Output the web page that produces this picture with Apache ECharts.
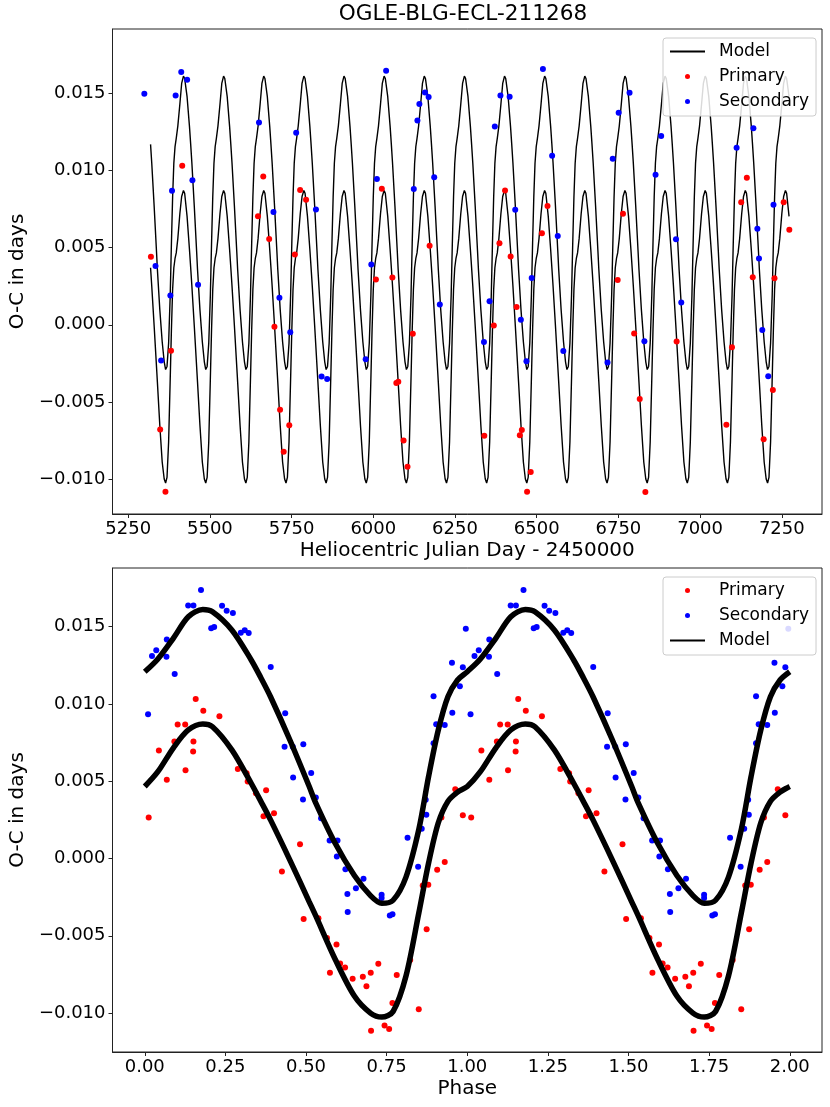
<!DOCTYPE html>
<html lang="en">
<head>
<meta charset="UTF-8" />
<title>OGLE-BLG-ECL-211268</title>
<script src="https://cdn.jsdelivr.net/npm/echarts@6/dist/echarts.min.js"></script>
<style>
  html, body { margin: 0; padding: 0; background: #fff; }
  #chart { width: 830px; height: 1107px; }
</style>
</head>
<body>
<div id="chart"></div>
<script>
// tick labels
const jdTicks = [5250, 5500, 5750, 6000, 6250, 6500, 6750, 7000, 7250];
const ocTicks = [-0.010, -0.005, 0, 0.005, 0.010, 0.015];
const phaseTicks = [0, 0.25, 0.5, 0.75, 1, 1.25, 1.5, 1.75, 2];

// top panel: minima timings [HJD - 2450000, O-C]
const primaryJD = [
  [5319.5, 0.00441], [5347.8, -0.00679], [5364.0, -0.01083], [5381.0, -0.00168],
  [5415.3, 0.01031], [5647.1, 0.00703], [5663.3, 0.00962], [5681.4, 0.00556],
  [5697.5, -0.00013], [5714.7, -0.00551], [5725.8, -0.00823], [5742.9, -0.00652],
  [5760.0, 0.00456], [5776.1, 0.00874], [5794.3, 0.00811], [6008.0, 0.00294],
  [6026.1, 0.00882], [6058.4, 0.00307], [6070.5, -0.00378], [6076.5, -0.00369],
  [6092.6, -0.00750], [6104.7, -0.00921], [6120.9, -0.00058], [6172.3, 0.00513],
  [6339.6, -0.00720], [6368.8, -0.00004], [6386.0, 0.00528], [6403.1, 0.00871],
  [6420.2, 0.00443], [6438.4, 0.00115], [6448.4, -0.00717], [6454.5, -0.00683],
  [6470.6, -0.01083], [6481.7, -0.00955], [6516.0, 0.00593], [6533.1, 0.00770],
  [6747.8, 0.00290], [6764.0, 0.00720], [6798.2, -0.00056], [6815.3, -0.00482],
  [6832.5, -0.01085], [6928.2, -0.00108], [7080.4, -0.00648], [7097.6, -0.00145],
  [7125.8, 0.00794], [7143.0, 0.00954], [7161.1, 0.00309], [7194.4, -0.00743],
  [7222.6, -0.00423], [7227.6, 0.00301], [7255.8, 0.00794], [7273.0, 0.00616]
];
const secondaryJD = [
  [5299.4, 0.01498], [5333.6, 0.00381], [5350.8, -0.00231], [5379.0, 0.00190],
  [5384.1, 0.00869], [5395.1, 0.01487], [5412.3, 0.01639], [5430.4, 0.01589],
  [5446.5, 0.00938], [5463.7, 0.00260], [5650.2, 0.01312], [5694.5, 0.00731],
  [5712.7, 0.00175], [5745.9, -0.00049], [5764.0, 0.01245], [5824.5, 0.00748],
  [5841.7, -0.00336], [5858.8, -0.00352], [5976.7, -0.00224], [5993.9, 0.00391],
  [6011.0, 0.00945], [6039.2, 0.01647], [6123.9, 0.00880], [6135.0, 0.01325],
  [6141.0, 0.01431], [6158.2, 0.01507], [6169.3, 0.01477], [6186.4, 0.00956],
  [6203.5, 0.00132], [6338.6, -0.00112], [6355.7, 0.00152], [6371.8, 0.01286],
  [6389.0, 0.01487], [6417.2, 0.01479], [6434.3, 0.00746], [6451.5, 0.00033],
  [6468.6, -0.00237], [6484.7, 0.00303], [6519.0, 0.01658], [6547.2, 0.01096],
  [6564.4, 0.00575], [6581.5, -0.00170], [6716.6, -0.00244], [6732.7, 0.01077],
  [6750.8, 0.01375], [6784.1, 0.01505], [6829.5, -0.00106], [6863.7, 0.00973],
  [6880.9, 0.01224], [6926.2, 0.00554], [6942.4, 0.00145], [7111.7, 0.01148],
  [7163.1, 0.01274], [7175.2, 0.00623], [7180.2, 0.00430], [7190.3, -0.00034],
  [7208.5, -0.00333], [7224.6, 0.00778]
];

// model over one cycle: [phase, secondary, primary]
const modelCycle = [
  [0.000, 0.01209, 0.00466], [0.040, 0.01290, 0.00560], [0.090, 0.01430, 0.00720],
  [0.135, 0.01565, 0.00832], [0.180, 0.01612, 0.00871], [0.210, 0.01597, 0.00853],
  [0.270, 0.01479, 0.00703], [0.330, 0.01285, 0.00487], [0.360, 0.01170, 0.00370],
  [0.390, 0.01047, 0.00250], [0.450, 0.00767, -0.00010], [0.510, 0.00466, -0.00280],
  [0.530, 0.00360, -0.00370], [0.590, 0.00100, -0.00650], [0.650, -0.00110, -0.00890],
  [0.700, -0.00240, -0.01000], [0.735, -0.00290, -0.01026], [0.770, -0.00270, -0.00990],
  [0.810, -0.00120, -0.00760], [0.850, 0.00190, -0.00350], [0.880, 0.00530, -0.00030],
  [0.910, 0.00830, 0.00230], [0.940, 0.01047, 0.00370], [0.970, 0.01155, 0.00430]
];
const modelPeriod = 122.8;   // days
const modelEpoch = 5397.0;   // phase zero
const modelStart = 5318;
const modelEnd = 7273;

// bottom panel: same minima folded on phase 0..1
const primaryPhase = [
  [0.0122, 0.00265], [0.0438, 0.00699], [0.0683, 0.00509], [0.0918, 0.00757],
  [0.1020, 0.00867], [0.1254, 0.00867], [0.1264, 0.00571], [0.1500, 0.00692],
  [0.1509, 0.00757], [0.1580, 0.01033], [0.1815, 0.00957], [0.2315, 0.00921],
  [0.2886, 0.00580], [0.3158, 0.00552], [0.3192, 0.00498], [0.3447, 0.00423],
  [0.3682, 0.00274], [0.3763, 0.00442], [0.4008, 0.00293], [0.4253, -0.00084],
  [0.4814, 0.00093], [0.4926, -0.00392], [0.5385, -0.00386], [0.5650, -0.00515],
  [0.5742, -0.00739], [0.5946, -0.00556], [0.6058, -0.00679], [0.6211, -0.00705],
  [0.6446, -0.00778], [0.6762, -0.00765], [0.6874, -0.00827], [0.7007, -0.00739],
  [0.7017, -0.01114], [0.7242, -0.00681], [0.7435, -0.01080], [0.7578, -0.01103],
  [0.7680, -0.00935], [0.7813, -0.00754], [0.8231, -0.00657], [0.8496, -0.00976],
  [0.8619, -0.00174], [0.8741, -0.00457], [0.8792, -0.00170], [0.9067, -0.00073],
  [0.9200, 0.00265], [0.9302, -0.00023], [0.9628, 0.00448], [0.9863, 0.00280]
];
const secondaryPhase = [
  [0.0102, 0.00934], [0.0224, 0.01311], [0.0357, 0.01347], [0.0673, 0.01306],
  [0.0683, 0.01418], [0.0928, 0.01194], [0.1346, 0.01638], [0.1509, 0.01638],
  [0.1744, 0.01737], [0.2060, 0.01490], [0.2152, 0.01498], [0.2397, 0.01636],
  [0.2540, 0.01604], [0.2733, 0.01589], [0.2978, 0.01461], [0.3100, 0.01477],
  [0.3223, 0.01459], [0.3906, 0.01240], [0.4335, 0.00724], [0.4355, 0.00940],
  [0.4590, 0.00724], [0.4600, 0.00524], [0.4906, 0.00382], [0.4916, 0.00739],
  [0.5161, 0.00554], [0.5304, 0.00395], [0.5467, 0.00261], [0.5732, 0.00117],
  [0.5956, 0.00013], [0.5977, 0.00117], [0.6222, -0.00069], [0.6283, -0.00230],
  [0.6293, -0.00346], [0.6548, -0.00192], [0.6783, -0.00131], [0.7344, -0.00235],
  [0.7344, -0.00256], [0.7599, -0.00368], [0.7681, -0.00360], [0.8149, 0.00134],
  [0.8476, -0.00054], [0.8588, 0.00192], [0.8711, 0.00380], [0.8731, 0.00283],
  [0.8955, 0.00746], [0.8955, 0.01050], [0.9037, 0.00869], [0.9302, 0.00864],
  [0.9526, 0.01267], [0.9537, 0.00944], [0.9771, 0.01115], [0.9863, 0.01237],
  [0.9955, 0.01487]
];

// repeat the one-cycle model along the time axis
function modelInTime(col) {
  const out = [];
  for (let k = -1; k <= 16; k++) {
    modelCycle.forEach(function (r) {
      const t = modelEpoch + (k + r[0]) * modelPeriod;
      if (t >= modelStart && t <= modelEnd) out.push([t, r[col]]);
    });
  }
  return out;
}
// two cycles for the phase plot
function modelInPhase(col) {
  const out = [];
  [0, 1].forEach(function (k) {
    modelCycle.forEach(function (r) { out.push([r[0] + k, r[col]]); });
  });
  out.push([2, modelCycle[0][col]]);
  return out;
}
function twoCycles(pts) {
  return pts.concat(pts.map(function (p) { return [p[0] + 1, p[1]]; }));
}

const FONT = 'DejaVu Sans';
const ocLabel = function (v) {
  return (v < -1e-9 ? '\u2212' : '') + Math.abs(v).toFixed(3);
};

function xAxisOf(idx, min, max, ticks, name, fmt) {
  return {
    type: 'value', gridIndex: idx, min: min, max: max,
    name: name, nameLocation: 'middle', nameGap: 27,
    nameTextStyle: { fontFamily: FONT, fontSize: 20, color: '#000' },
    axisLine: { onZero: false, lineStyle: { color: '#222', width: 1 } },
    axisTick: { customValues: ticks, length: 4, lineStyle: { color: '#222' } },
    axisLabel: { customValues: ticks, formatter: fmt, margin: 6,
                 fontFamily: FONT, fontSize: 18, color: '#000' },
    splitLine: { show: false }
  };
}
function yAxisOf(idx, min, max) {
  return {
    type: 'value', gridIndex: idx, min: min, max: max,
    name: 'O-C in days', nameLocation: 'middle', nameGap: 74,
    nameTextStyle: { fontFamily: FONT, fontSize: 20, color: '#000' },
    axisLine: { onZero: false, lineStyle: { color: '#222', width: 1 } },
    axisTick: { customValues: ocTicks, length: 4, lineStyle: { color: '#222' } },
    axisLabel: { customValues: ocTicks, formatter: ocLabel, margin: 7,
                 fontFamily: FONT, fontSize: 18, color: '#000' },
    splitLine: { show: false }
  };
}
function legendOf(top, names) {
  return {
    orient: 'vertical', left: 663, top: top,
    padding: [5, 7, 6, 6], itemGap: 8, itemWidth: 35, itemHeight: 5,
    backgroundColor: 'rgba(255,255,255,0.85)', borderColor: '#cccccc',
    borderWidth: 1, borderRadius: 3,
    textStyle: { fontFamily: FONT, fontSize: 17, color: '#000', padding: [0, 0, 0, 9] },
    formatter: function (n) { return n.trim(); },
    data: names.map(function (n) {
      return n.trim() === 'Model' ? { name: n, itemStyle: { opacity: 0 } } : { name: n };
    })
  };
}

const chart = echarts.init(document.getElementById('chart'));
chart.setOption({
  animation: false,
  backgroundColor: '#fff',
  graphic: [{
    type: 'text', x: 463, y: 14,
    style: { text: 'OGLE-BLG-ECL-211268', font: '21.6px "DejaVu Sans"', fill: '#000',
             textAlign: 'center', textVerticalAlign: 'middle' }
  }],
  grid: [
    { left: 104, top: 29, width: 718, height: 485, show: true, borderColor: '#222', borderWidth: 1 },
    { left: 104, top: 568, width: 718, height: 484, show: true, borderColor: '#222', borderWidth: 1 }
  ],
  xAxis: [
    xAxisOf(0, 5202, 7373, jdTicks, 'Heliocentric Julian Day - 2450000', function (v) { return String(v); }),
    xAxisOf(1, -0.1, 2.1, phaseTicks, 'Phase', function (v) { return v.toFixed(2); })
  ],
  yAxis: [yAxisOf(0, -0.01227, 0.01918), yAxisOf(1, -0.01252, 0.0188)],
  legend: [
    legendOf(38, ['Model', 'Primary', 'Secondary']),
    legendOf(577, ['Primary ', 'Secondary ', 'Model '])
  ],
  series: [
    { type: 'line', name: 'Model', xAxisIndex: 0, yAxisIndex: 0, data: modelInTime(1),
      symbol: 'none', lineStyle: { color: '#000', width: 1.4 }, itemStyle: { color: '#000' }, z: 2 },
    { type: 'line', name: 'Model', xAxisIndex: 0, yAxisIndex: 0, data: modelInTime(2),
      symbol: 'none', lineStyle: { color: '#000', width: 1.4 }, itemStyle: { color: '#000' }, z: 2 },
    { type: 'scatter', name: 'Primary', xAxisIndex: 0, yAxisIndex: 0, data: primaryJD,
      symbolSize: 6, itemStyle: { color: '#ff0000', opacity: 1 }, z: 3 },
    { type: 'scatter', name: 'Secondary', xAxisIndex: 0, yAxisIndex: 0, data: secondaryJD,
      symbolSize: 6, itemStyle: { color: '#0000ff', opacity: 1 }, z: 3 },

    { type: 'scatter', name: 'Primary ', xAxisIndex: 1, yAxisIndex: 1, data: twoCycles(primaryPhase),
      symbolSize: 6, itemStyle: { color: '#ff0000', opacity: 1 }, z: 2 },
    { type: 'scatter', name: 'Secondary ', xAxisIndex: 1, yAxisIndex: 1, data: twoCycles(secondaryPhase),
      symbolSize: 6, itemStyle: { color: '#0000ff', opacity: 1 }, z: 2 },
    { type: 'line', name: 'Model ', xAxisIndex: 1, yAxisIndex: 1, data: modelInPhase(1), smooth: 0.3,
      symbol: 'none', lineStyle: { color: '#000', width: 5.5 }, itemStyle: { color: '#000' }, z: 3 },
    { type: 'line', name: 'Model ', xAxisIndex: 1, yAxisIndex: 1, data: modelInPhase(2), smooth: 0.3,
      symbol: 'none', lineStyle: { color: '#000', width: 5.5 }, itemStyle: { color: '#000' }, z: 3 }
  ]
});
</script>
</body>
</html>
